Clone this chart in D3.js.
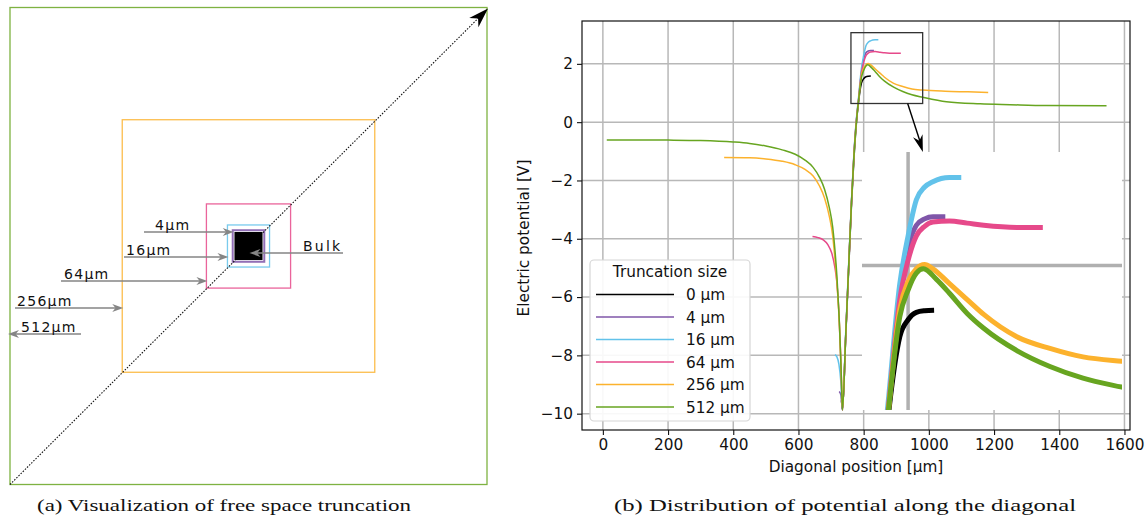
<!DOCTYPE html>
<html>
<head>
<meta charset="utf-8">
<script src="https://cdn.jsdelivr.net/npm/d3@7"></script>
<style>
body { margin: 0; background: #fff; }
text { font-family: "DejaVu Sans", sans-serif; fill: #111; }
.caption { font-family: "Liberation Serif", "DejaVu Serif", serif; font-size: 17px; }
</style>
</head>
<body>
<svg id="fig" width="1147" height="521"></svg>
<script>
// truncation sizes (µm) and their colours
var sizes = [0, 4, 16, 64, 256, 512];
var sizeLabels = ["0 µm", "4 µm", "16 µm", "64 µm", "256 µm", "512 µm"];
var colors = ["#000000", "#7f56a9", "#62c2ea", "#e6498a", "#fcb22d", "#67a520"];
var bulkSize = 64; // µm, side of the bulk square

// potential along the diagonal, [position µm, potential V]
var pot0 = [[732,-9.55],[735,-9.87],[745,-7.35],[755,-4.8],[763,-2.75],[770,-1.3],[778,0.0],[784,0.66],[793,1.33],[800,1.49],[807,1.56],[814,1.575],[822,1.58]];
var pot4 = [[725,-9.24],[730,-9.35],[735,-9.87],[745,-7.3],[755,-4.7],[763,-2.65],[770,-1.15],[778,0.1],[783.5,0.68],[793,1.71],[800,2.17],[807,2.38],[814,2.44],[821,2.46],[831.5,2.46]];
var pot16 = [[712,-7.98],[718,-8.05],[724,-8.3],[730,-8.9],[735,-9.87],[745,-7.2],[755,-4.6],[763,-2.6],[770,-1.1],[778,0.15],[783,0.7],[793,1.83],[800,2.28],[807,2.62],[814,2.74],[821,2.79],[828,2.82],[835,2.83],[845,2.83]];
var pot64 = [[643,-3.92],[660,-3.96],[676,-4.04],[690,-4.2],[702,-4.49],[712,-5.0],[717,-5.41],[724,-6.5],[730,-8.2],[735,-9.87],[745,-7.3],[755,-4.7],[763,-2.65],[770,-1.15],[778,0.1],[783.5,0.68],[793,1.68],[800,2.05],[807,2.28],[814,2.37],[821,2.41],[835,2.42],[850,2.4],[864,2.38],[892,2.36],[914,2.36]];
var pot256 = [[372,-1.21],[450,-1.22],[500,-1.26],[550,-1.34],[590,-1.46],[620,-1.62],[645,-1.85],[665,-2.2],[680,-2.6],[695,-3.25],[705,-3.9],[712,-4.7],[718,-5.5],[722,-6.2],[726,-7.05],[729,-7.93],[732,-8.9],[735,-9.87],[745,-7.3],[755,-4.7],[763,-2.67],[770,-1.2],[778,0.05],[783.5,0.65],[793,1.59],[800,1.85],[807,1.97],[814,2.01],[821,1.97],[835,1.83],[850,1.68],[864,1.54],[892,1.33],[920,1.22],[948,1.14],[981,1.1],[1050,1.06],[1120,1.04],[1182,1.02]];
var pot512 = [[12,-0.61],[100,-0.61],[200,-0.615],[300,-0.63],[400,-0.68],[450,-0.73],[500,-0.82],[550,-0.95],[590,-1.1],[620,-1.3],[645,-1.55],[665,-1.9],[680,-2.3],[695,-2.95],[705,-3.6],[712,-4.4],[718,-5.3],[722,-6.1],[726,-7.0],[729,-7.9],[732,-8.9],[735,-9.87],[745,-7.3],[755,-4.7],[763,-2.67],[770,-1.2],[778,0.05],[783.5,0.65],[793,1.52],[800,1.77],[807,1.93],[813,1.97],[824,1.87],[835,1.74],[850,1.55],[864,1.41],[892,1.2],[920,1.05],[948,0.94],[981,0.855],[1054,0.7],[1157,0.63],[1250,0.6],[1361,0.57],[1545,0.56]];
var series = [pot0, pot4, pot16, pot64, pot256, pot512];

var xTicks = [0, 200, 400, 600, 800, 1000, 1200, 1400, 1600];
var yTicks = [-10, -8, -6, -4, -2, 0, 2];
var zoomX = [761, 981], zoomY = [0.64, 3.07];

var svg = d3.select("#fig");
var defs = svg.append("defs");

function stealth(g, tip, from, len, wid, color) {
    // filled arrow head with a notch, pointing from 'from' to 'tip'
    var dx = tip[0] - from[0], dy = tip[1] - from[1];
    var l = Math.sqrt(dx*dx + dy*dy); dx /= l; dy /= l;
    var bx = tip[0] - dx*len, by = tip[1] - dy*len;
    var nx = tip[0] - dx*len*0.7, ny = tip[1] - dy*len*0.7;
    g.append("path")
        .attr("d", "M" + tip + "L" + [bx - dy*wid/2, by + dx*wid/2] + "L" + [nx, ny] + "L" + [bx + dy*wid/2, by - dx*wid/2] + "Z")
        .attr("fill", color);
}

// ---------- (a) free space truncation ----------
var left = svg.append("g");
var cx = 248.5, cy = 246;
var side = d3.scaleLinear().domain([0, bulkSize + 2 * 512]).range([0, 477]);

sizes.slice().reverse().forEach(function (t, j) {
    var i = sizes.length - 1 - j;
    var s = side(bulkSize + 2 * t);
    if (t === 0) return;
    left.append("rect")
        .attr("x", cx - s / 2).attr("y", cy - s / 2)
        .attr("width", s).attr("height", s)
        .attr("fill", "none")
        .attr("stroke", colors[i])
        .attr("stroke-opacity", 0.85)
        .attr("stroke-width", t === 4 ? 2 : 1.3);
});

var g0 = side(bulkSize + 2 * 512);
var p0 = [cx - g0 / 2, cy + g0 / 2], p1 = [cx + g0 / 2 + 1, cy - g0 / 2 + 1];
left.append("line")
    .attr("x1", p0[0]).attr("y1", p0[1]).attr("x2", p1[0] - 8).attr("y2", p1[1] + 8)
    .attr("stroke", "#111").attr("stroke-width", 1.1).attr("stroke-dasharray", "1.5,1.5");
stealth(left, p1, p0, 20, 13, "#000");

var b = side(bulkSize);
left.append("rect")
    .attr("x", cx - b / 2).attr("y", cy - b / 2)
    .attr("width", b).attr("height", b).attr("fill", "#000");

// label arrows: y of arrow, start of arrow tail, text x
var annot = [
    { t: 4, y: 232, x0: 144, tx: 155 },
    { t: 16, y: 257, x0: 124, tx: 126 },
    { t: 64, y: 281, x0: 61, tx: 64 },
    { t: 256, y: 308, x0: 15, tx: 17 },
    { t: 512, y: 334, x0: 81, tx: 21, out: true }
];
annot.forEach(function (a) {
    var edge = cx - side(bulkSize + 2 * a.t) / 2;
    var tip = a.out ? [edge - 2, a.y] : [edge + 1, a.y];
    var tail = [a.x0, a.y];
    left.append("line").attr("x1", tail[0]).attr("y1", a.y).attr("x2", a.out ? tip[0] + 6 : tip[0] - 6).attr("y2", a.y)
        .attr("stroke", "#858585").attr("stroke-width", 1.6);
    stealth(left, tip, tail, 11, 8, "#858585");
    left.append("text").attr("x", a.tx).attr("y", a.y - 2)
        .style("font-size", "14px").style("letter-spacing", "1.3px")
        .text(a.t + "µm");
});
left.append("line").attr("x1", 343).attr("y1", 253).attr("x2", cx + 8).attr("y2", 253)
    .attr("stroke", "#858585").attr("stroke-width", 1.6);
stealth(left, [cx + 1, 253], [343, 253], 11, 8, "#858585");
left.append("text").attr("x", 303).attr("y", 251)
    .style("font-size", "14px").style("letter-spacing", "2.2px").text("Bulk");

left.append("text").attr("class", "caption").attr("x", 224).attr("y", 511)
    .attr("text-anchor", "middle").attr("textLength", 374).attr("lengthAdjust", "spacingAndGlyphs")
    .text("(a) Visualization of free space truncation");

// ---------- (b) potential along the diagonal ----------
var x = d3.scaleLinear().domain([-64, 1617]).range([582, 1130]);
var y = d3.scaleLinear().domain([-10.56, 3.47]).range([430, 21]);
var plot = svg.append("g");
var fs = "15.3px";

defs.append("clipPath").attr("id", "clipMain").append("rect")
    .attr("x", 582).attr("y", 21).attr("width", 548).attr("height", 409);

var grid = plot.append("g").attr("stroke", "#b8b8b8").attr("stroke-width", 1.5);
xTicks.forEach(function (v) {
    grid.append("line").attr("x1", x(v)).attr("x2", x(v)).attr("y1", 21).attr("y2", 430);
});
yTicks.forEach(function (v) {
    grid.append("line").attr("x1", 582).attr("x2", 1130).attr("y1", y(v)).attr("y2", y(v));
});

var line = d3.line().x(function (d) { return x(d[0]); }).y(function (d) { return y(d[1]); })
    .curve(d3.curveMonotoneX);
var lines = plot.append("g").attr("clip-path", "url(#clipMain)");
series.forEach(function (s, i) {
    lines.append("path").attr("d", line(s)).attr("fill", "none")
        .attr("stroke", colors[i]).attr("stroke-width", 1.5);
});

// zoom rectangle
plot.append("rect")
    .attr("x", x(zoomX[0])).attr("y", y(zoomY[1]))
    .attr("width", x(zoomX[1]) - x(zoomX[0])).attr("height", y(zoomY[0]) - y(zoomY[1]))
    .attr("fill", "none").attr("stroke", "#333").attr("stroke-width", 1.3);

// inset
var ix = d3.scaleLinear().domain(zoomX).range([862, 1122]);
var iy = d3.scaleLinear().domain(zoomY).range([410, 152]);
var inset = plot.append("g");
inset.append("rect").attr("x", 862).attr("y", 152).attr("width", 260).attr("height", 258).attr("fill", "#fff");
defs.append("clipPath").attr("id", "clipInset").append("rect")
    .attr("x", 862).attr("y", 152).attr("width", 260).attr("height", 258);
var ig = inset.append("g").attr("stroke", "#b0b0b0").attr("stroke-width", 3.5);
xTicks.filter(function (v) { return v > zoomX[0] && v < zoomX[1]; }).forEach(function (v) {
    ig.append("line").attr("x1", ix(v)).attr("x2", ix(v)).attr("y1", 152).attr("y2", 410);
});
yTicks.filter(function (v) { return v > zoomY[0] && v < zoomY[1]; }).forEach(function (v) {
    ig.append("line").attr("x1", 862).attr("x2", 1122).attr("y1", iy(v)).attr("y2", iy(v));
});
var iline = d3.line().x(function (d) { return ix(d[0]); }).y(function (d) { return iy(d[1]); })
    .curve(d3.curveMonotoneX);
var il = inset.append("g").attr("clip-path", "url(#clipInset)");
series.forEach(function (s, i) {
    il.append("path").attr("d", iline(s)).attr("fill", "none")
        .attr("stroke", colors[i]).attr("stroke-width", 5);
});

// pointer from the zoom box to the inset
var aStart = [x(935), y(zoomY[0])], aEnd = [ix(812.5), 152];
plot.append("line").attr("x1", aStart[0]).attr("y1", aStart[1])
    .attr("x2", aEnd[0] - 2).attr("y2", aEnd[1] - 8)
    .attr("stroke", "#000").attr("stroke-width", 1.4);
stealth(plot, aEnd, aStart, 17, 10, "#000");

// axes
var xAxis = d3.axisBottom(x).tickValues(xTicks).tickFormat(d3.format("d")).tickSize(5).tickPadding(4);
var yAxis = d3.axisLeft(y).tickValues(yTicks).tickSize(5).tickPadding(4);
plot.append("g").attr("transform", "translate(0,430)").call(xAxis)
    .call(function (g) { g.select(".domain").remove(); });
plot.append("g").attr("transform", "translate(582,0)").call(yAxis)
    .call(function (g) { g.select(".domain").remove(); });
plot.selectAll(".tick text").style("font-size", fs).style("font-family", "DejaVu Sans").attr("fill", "#111");
plot.selectAll(".tick line").attr("stroke", "#111").attr("stroke-width", 1.1);
plot.append("rect").attr("x", 582).attr("y", 21).attr("width", 548).attr("height", 409)
    .attr("fill", "none").attr("stroke", "#111").attr("stroke-width", 1.2);

plot.append("text").attr("x", 856).attr("y", 472).attr("text-anchor", "middle")
    .style("font-size", fs).text("Diagonal position [µm]");
plot.append("text").attr("transform", "translate(529,238) rotate(-90)").attr("text-anchor", "middle")
    .style("font-size", fs).text("Electric potential [V]");

// legend
var leg = plot.append("g");
leg.append("rect").attr("x", 590).attr("y", 260).attr("width", 160).attr("height", 161).attr("rx", 4)
    .attr("fill", "#fff").attr("fill-opacity", 0.9).attr("stroke", "#d6d6d6").attr("stroke-width", 1.2);
leg.append("text").attr("x", 670).attr("y", 277).attr("text-anchor", "middle")
    .style("font-size", fs).text("Truncation size");
sizes.forEach(function (t, i) {
    var ly = 294.5 + i * 22.5;
    leg.append("line").attr("x1", 596).attr("x2", 674).attr("y1", ly).attr("y2", ly)
        .attr("stroke", colors[i]).attr("stroke-width", 1.5);
    leg.append("text").attr("x", 686).attr("y", ly + 5.5).style("font-size", fs).text(sizeLabels[i]);
});

svg.append("text").attr("class", "caption").attr("x", 845).attr("y", 511)
    .attr("text-anchor", "middle").attr("textLength", 462).attr("lengthAdjust", "spacingAndGlyphs")
    .text("(b) Distribution of potential along the diagonal");
</script>
</body>
</html>
